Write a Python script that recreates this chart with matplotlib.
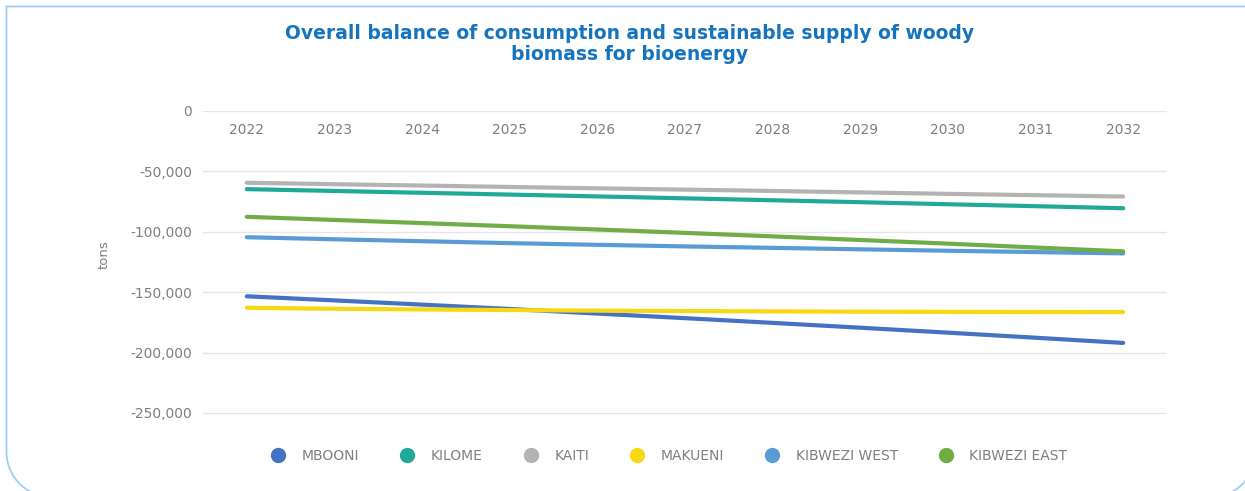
import numpy as np
import matplotlib
matplotlib.use("Agg")
import matplotlib.pyplot as plt
from matplotlib.path import Path
from matplotlib.patches import PathPatch
from matplotlib.lines import Line2D
from matplotlib.ticker import FuncFormatter

years = [2022, 2023, 2024, 2025, 2026, 2027, 2028, 2029, 2030, 2031, 2032]

mbooni = [-153400, -156800, -160300, -163900, -167700, -171500, -175400, -179400, -183500, -187700, -192000]
kilome = [-64700, -66200, -67700, -69200, -70700, -72300, -73900, -75500, -77200, -78800, -80500]
kaiti = [-59400, -60600, -61700, -62900, -64000, -65100, -66200, -67400, -68600, -69700, -70800]
makueni = [-162900, -163700, -164300, -164800, -165300, -165600, -165900, -166100, -166300, -166400, -166500]
kibwezi_west = [-104500, -106200, -107800, -109400, -110800, -112100, -113300, -114500, -115700, -116800, -117900]
kibwezi_east = [-87600, -90200, -92800, -95400, -98100, -100900, -103800, -106800, -109800, -113000, -116200]

names = ["MBOONI", "KILOME", "KAITI", "MAKUENI", "KIBWEZI WEST", "KIBWEZI EAST"]
series = [mbooni, kilome, kaiti, makueni, kibwezi_west, kibwezi_east]
colors = ["#4472C4", "#20A99A", "#B3B3B3", "#F6D813", "#5B9BD5", "#70AD47"]

yticks = [0, -50000, -100000, -150000, -200000, -250000]

W, H = 1245, 491
fig = plt.figure(figsize=(W / 100, H / 100), dpi=100)
# a little room below the last gridline so it is not clipped
ax = fig.add_axes([203 / W, 1 - 416 / H, (1167 - 203) / W, (416 - 111) / H])

for vals, col, name in zip(series, colors, names):
    ax.plot(years, vals, color=col, lw=3.0, solid_capstyle="round", label=name, zorder=3)

ax.set_xlim(2021.5, 2032.5)
ax.set_ylim(-252500, 0)
ax.set_yticks(yticks)
ax.set_xticks(years)
ax.yaxis.set_major_formatter(FuncFormatter(lambda v, p: f"{int(v):,}"))
ax.grid(axis="y", color="#E6E6E6", lw=1.0, zorder=0)
for s in ax.spines.values():
    s.set_visible(False)

tick_col = "#7F7F7F"
ax.tick_params(axis="y", length=0, pad=8, labelsize=10, labelcolor=tick_col)
ax.tick_params(axis="x", length=0, top=True, labeltop=True, bottom=False, labelbottom=False,
               pad=-19, labelsize=10, labelcolor=tick_col)
ax.set_ylabel("tons", color=tick_col, fontsize=9.5)
ax.yaxis.set_label_coords(-92 / (1167 - 203), 0.53)

fig.text(630 / W, 1 - 44 / H, "Overall balance of consumption and sustainable supply of woody\nbiomass for bioenergy",
         ha="center", va="center", fontsize=13.5, fontweight="bold", color="#1674BE", linespacing=1.15)

handles = [Line2D([], [], marker="o", ls="none", markersize=10, markerfacecolor=c, markeredgecolor=c)
           for c in colors]
fig.legend(handles, names, loc="center", bbox_to_anchor=(666 / W, 1 - 456 / H), ncol=6, frameon=False,
           fontsize=10, labelcolor=tick_col, handletextpad=0.7, columnspacing=2.45)

# frame with rounded lower corners, drawn in pixel units then scaled
r = 45
right, bottom = 1256, 497
pts = [(right, 6.5), (6.5, 6.5), (6.5, bottom - r)]
for a in np.linspace(np.pi, np.pi / 2, 20):
    pts.append((6.5 + r + r * np.cos(a), bottom - r + r * np.sin(a)))
for a in np.linspace(np.pi / 2, 0, 20):
    pts.append((right - r + r * np.cos(a), bottom - r + r * np.sin(a)))
pts.append((right, 6.5))
pts = np.array(pts)
pts[:, 0] /= W
pts[:, 1] = 1 - pts[:, 1] / H
frame = PathPatch(Path(pts), transform=fig.transFigure, fill=False, edgecolor="#9FCFEF",
                  lw=1.3, joinstyle="miter")
fig.add_artist(frame)

fig.savefig("out.png", dpi=100)
